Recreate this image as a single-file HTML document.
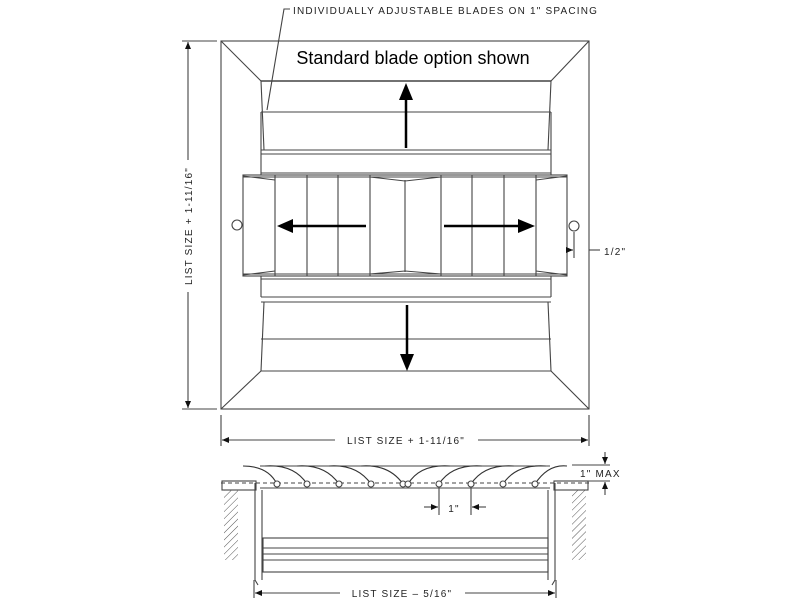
<!DOCTYPE html>
<html><head><style>
html,body{margin:0;padding:0;background:#fff;width:800px;height:600px;overflow:hidden}
svg{display:block}
.t{font-family:"Liberation Sans",sans-serif;font-size:10px;fill:#222;letter-spacing:1.2px}
</style></head><body>
<svg width="800" height="600" viewBox="0 0 800 600" xmlns="http://www.w3.org/2000/svg">
<defs>
<marker id="ah" markerWidth="8" markerHeight="8" refX="7" refY="4" orient="auto-start-reverse" markerUnits="userSpaceOnUse"><path d="M0,1 L7,4 L0,7 Z" fill="#111"/></marker>
<pattern id="hat" width="5" height="5" patternUnits="userSpaceOnUse" patternTransform="rotate(45)"><line x1="0" y1="0" x2="0" y2="5" stroke="#555" stroke-width="1"/></pattern>
</defs>
<g fill="none" stroke="#444" stroke-width="1.1">
<rect x="221" y="41" width="368" height="368"/>
<line x1="221" y1="41" x2="261" y2="81"/><line x1="589" y1="41" x2="551" y2="81"/>
<line x1="221" y1="409" x2="261" y2="371"/><line x1="589" y1="409" x2="551" y2="371"/>
<line x1="261" y1="81" x2="551" y2="81" stroke-width="1.5"/>
<polyline points="261,81 264,150"/><polyline points="551,81 548,150"/>
<line x1="261" y1="112" x2="551" y2="112"/>
<line x1="261" y1="112" x2="261" y2="175"/><line x1="551" y1="112" x2="551" y2="175"/>
<line x1="261" y1="150" x2="551" y2="150"/><line x1="261" y1="154" x2="551" y2="154"/>
<line x1="261" y1="173" x2="551" y2="173"/>
<rect x="243" y="175" width="324" height="101"/>
<line x1="243" y1="177" x2="567" y2="177"/>
<line x1="243" y1="274" x2="567" y2="274"/>
<g>
<line x1="275" y1="175" x2="275" y2="276"/><line x1="307" y1="175" x2="307" y2="276"/>
<line x1="338" y1="175" x2="338" y2="276"/><line x1="370" y1="175" x2="370" y2="276"/>
<line x1="405" y1="180" x2="405" y2="272"/><line x1="441" y1="175" x2="441" y2="276"/>
<line x1="472" y1="175" x2="472" y2="276"/><line x1="504" y1="175" x2="504" y2="276"/>
<line x1="536" y1="175" x2="536" y2="276"/>
<polyline points="370,177 405,181 441,177"/><polyline points="370,274 405,271 441,274"/>
<polyline points="243,176 275,180"/><polyline points="567,176 536,180"/>
<polyline points="243,275 275,271"/><polyline points="567,275 536,271"/>
</g>
<circle cx="237" cy="225" r="5"/><circle cx="574" cy="226" r="5"/>
<line x1="261" y1="279" x2="551" y2="279"/>
<line x1="261" y1="276" x2="261" y2="297"/><line x1="551" y1="276" x2="551" y2="297"/>
<line x1="261" y1="297" x2="551" y2="297"/><line x1="261" y1="302" x2="551" y2="302"/>
<polyline points="264,302 261,371"/><polyline points="548,302 551,371"/>
<line x1="261" y1="339" x2="551" y2="339"/>
<line x1="261" y1="371" x2="551" y2="371"/>
<line x1="182" y1="41" x2="217" y2="41"/><line x1="182" y1="409" x2="217" y2="409"/>
<line x1="188" y1="160" x2="188" y2="42" marker-end="url(#ah)"/>
<line x1="188" y1="292" x2="188" y2="408" marker-end="url(#ah)"/>
<line x1="221" y1="415" x2="221" y2="446"/><line x1="589" y1="415" x2="589" y2="446"/>
<line x1="335" y1="440" x2="222" y2="440" marker-end="url(#ah)"/>
<line x1="478" y1="440" x2="588" y2="440" marker-end="url(#ah)"/>
<polyline points="290,9 284,9 267,110"/>
<line x1="574" y1="232" x2="574" y2="258"/><line x1="566" y1="250" x2="573" y2="250" marker-end="url(#ah)"/>
<line x1="589" y1="250" x2="600" y2="250"/>
<line x1="260" y1="466" x2="550" y2="466"/>
<line x1="221" y1="483" x2="589" y2="483" stroke-dasharray="4,3"/>
<line x1="260" y1="488" x2="550" y2="488"/>
<rect x="222" y="481" width="34" height="9"/><rect x="554" y="481" width="34" height="9"/>
<rect x="224" y="490" width="14" height="70" fill="url(#hat)" stroke="none"/>
<rect x="572" y="490" width="14" height="70" fill="url(#hat)" stroke="none"/>
<polyline points="255,483 255,580 258,585"/><polyline points="262,490 262,580"/>
<polyline points="555,483 555,580 552,585"/><polyline points="548,490 548,580"/>
<rect x="263" y="538" width="285" height="34"/>
<line x1="263" y1="548" x2="548" y2="548"/><line x1="263" y1="554" x2="548" y2="554"/><line x1="263" y1="560" x2="548" y2="560"/>
<g stroke="#333">
<path d="M243,466 Q268,466 277,484"/><path d="M265,466 Q294,464 307,484"/>
<path d="M297,466 Q325,464 339,484"/><path d="M329,466 Q357,464 371,484"/>
<path d="M361,466 Q389,464 403,484"/><path d="M408,484 Q420,464 450,466"/>
<path d="M439,484 Q452,464 482,466"/><path d="M471,484 Q484,464 514,466"/>
<path d="M503,484 Q516,464 546,466"/><path d="M535,484 Q548,464 567,466"/>
</g>
<g fill="#fff"><circle cx="277" cy="484" r="3"/><circle cx="307" cy="484" r="3"/><circle cx="339" cy="484" r="3"/><circle cx="371" cy="484" r="3"/><circle cx="403" cy="484" r="3"/><circle cx="408" cy="484" r="3"/><circle cx="439" cy="484" r="3"/><circle cx="471" cy="484" r="3"/><circle cx="503" cy="484" r="3"/><circle cx="535" cy="484" r="3"/></g>
<line x1="439" y1="488" x2="439" y2="515"/><line x1="471" y1="488" x2="471" y2="515"/>
<line x1="424" y1="507" x2="438" y2="507" marker-end="url(#ah)"/><line x1="486" y1="507" x2="472" y2="507" marker-end="url(#ah)"/>
<line x1="572" y1="465" x2="610" y2="465"/><line x1="558" y1="481" x2="610" y2="481"/>
<line x1="605" y1="452" x2="605" y2="464" marker-end="url(#ah)"/><line x1="605" y1="495" x2="605" y2="482" marker-end="url(#ah)"/>
<line x1="254" y1="580" x2="254" y2="598"/><line x1="556" y1="580" x2="556" y2="598"/>
<line x1="340" y1="593" x2="255" y2="593" marker-end="url(#ah)"/>
<line x1="465" y1="593" x2="555" y2="593" marker-end="url(#ah)"/>
</g>
<g stroke="#000" stroke-width="2.5" fill="#000">
<line x1="406" y1="148" x2="406" y2="96"/><path d="M399,100 L406,83 L413,100 Z" stroke="none"/>
<line x1="407" y1="305" x2="407" y2="358"/><path d="M400,354 L407,371 L414,354 Z" stroke="none"/>
<line x1="366" y1="226" x2="290" y2="226"/><path d="M293,219 L277,226 L293,233 Z" stroke="none"/>
<line x1="444" y1="226" x2="520" y2="226"/><path d="M518,219 L535,226 L518,233 Z" stroke="none"/>
</g>
<text x="293" y="14" class="t">INDIVIDUALLY ADJUSTABLE BLADES ON 1" SPACING</text>
<text x="413" y="64" text-anchor="middle" font-family="Liberation Sans,sans-serif" font-size="18" fill="#000">Standard blade option shown</text>
<text class="t" transform="translate(192,226) rotate(-90)" text-anchor="middle">LIST SIZE + 1-11/16"</text>
<text x="406" y="444" class="t" text-anchor="middle">LIST SIZE + 1-11/16"</text>
<text x="604" y="255" class="t">1/2"</text>
<text x="454" y="512" class="t" text-anchor="middle">1"</text>
<text x="580" y="477" class="t">1" MAX</text>
<text x="402" y="597" class="t" text-anchor="middle">LIST SIZE – 5/16"</text>
</svg>
</body></html>
